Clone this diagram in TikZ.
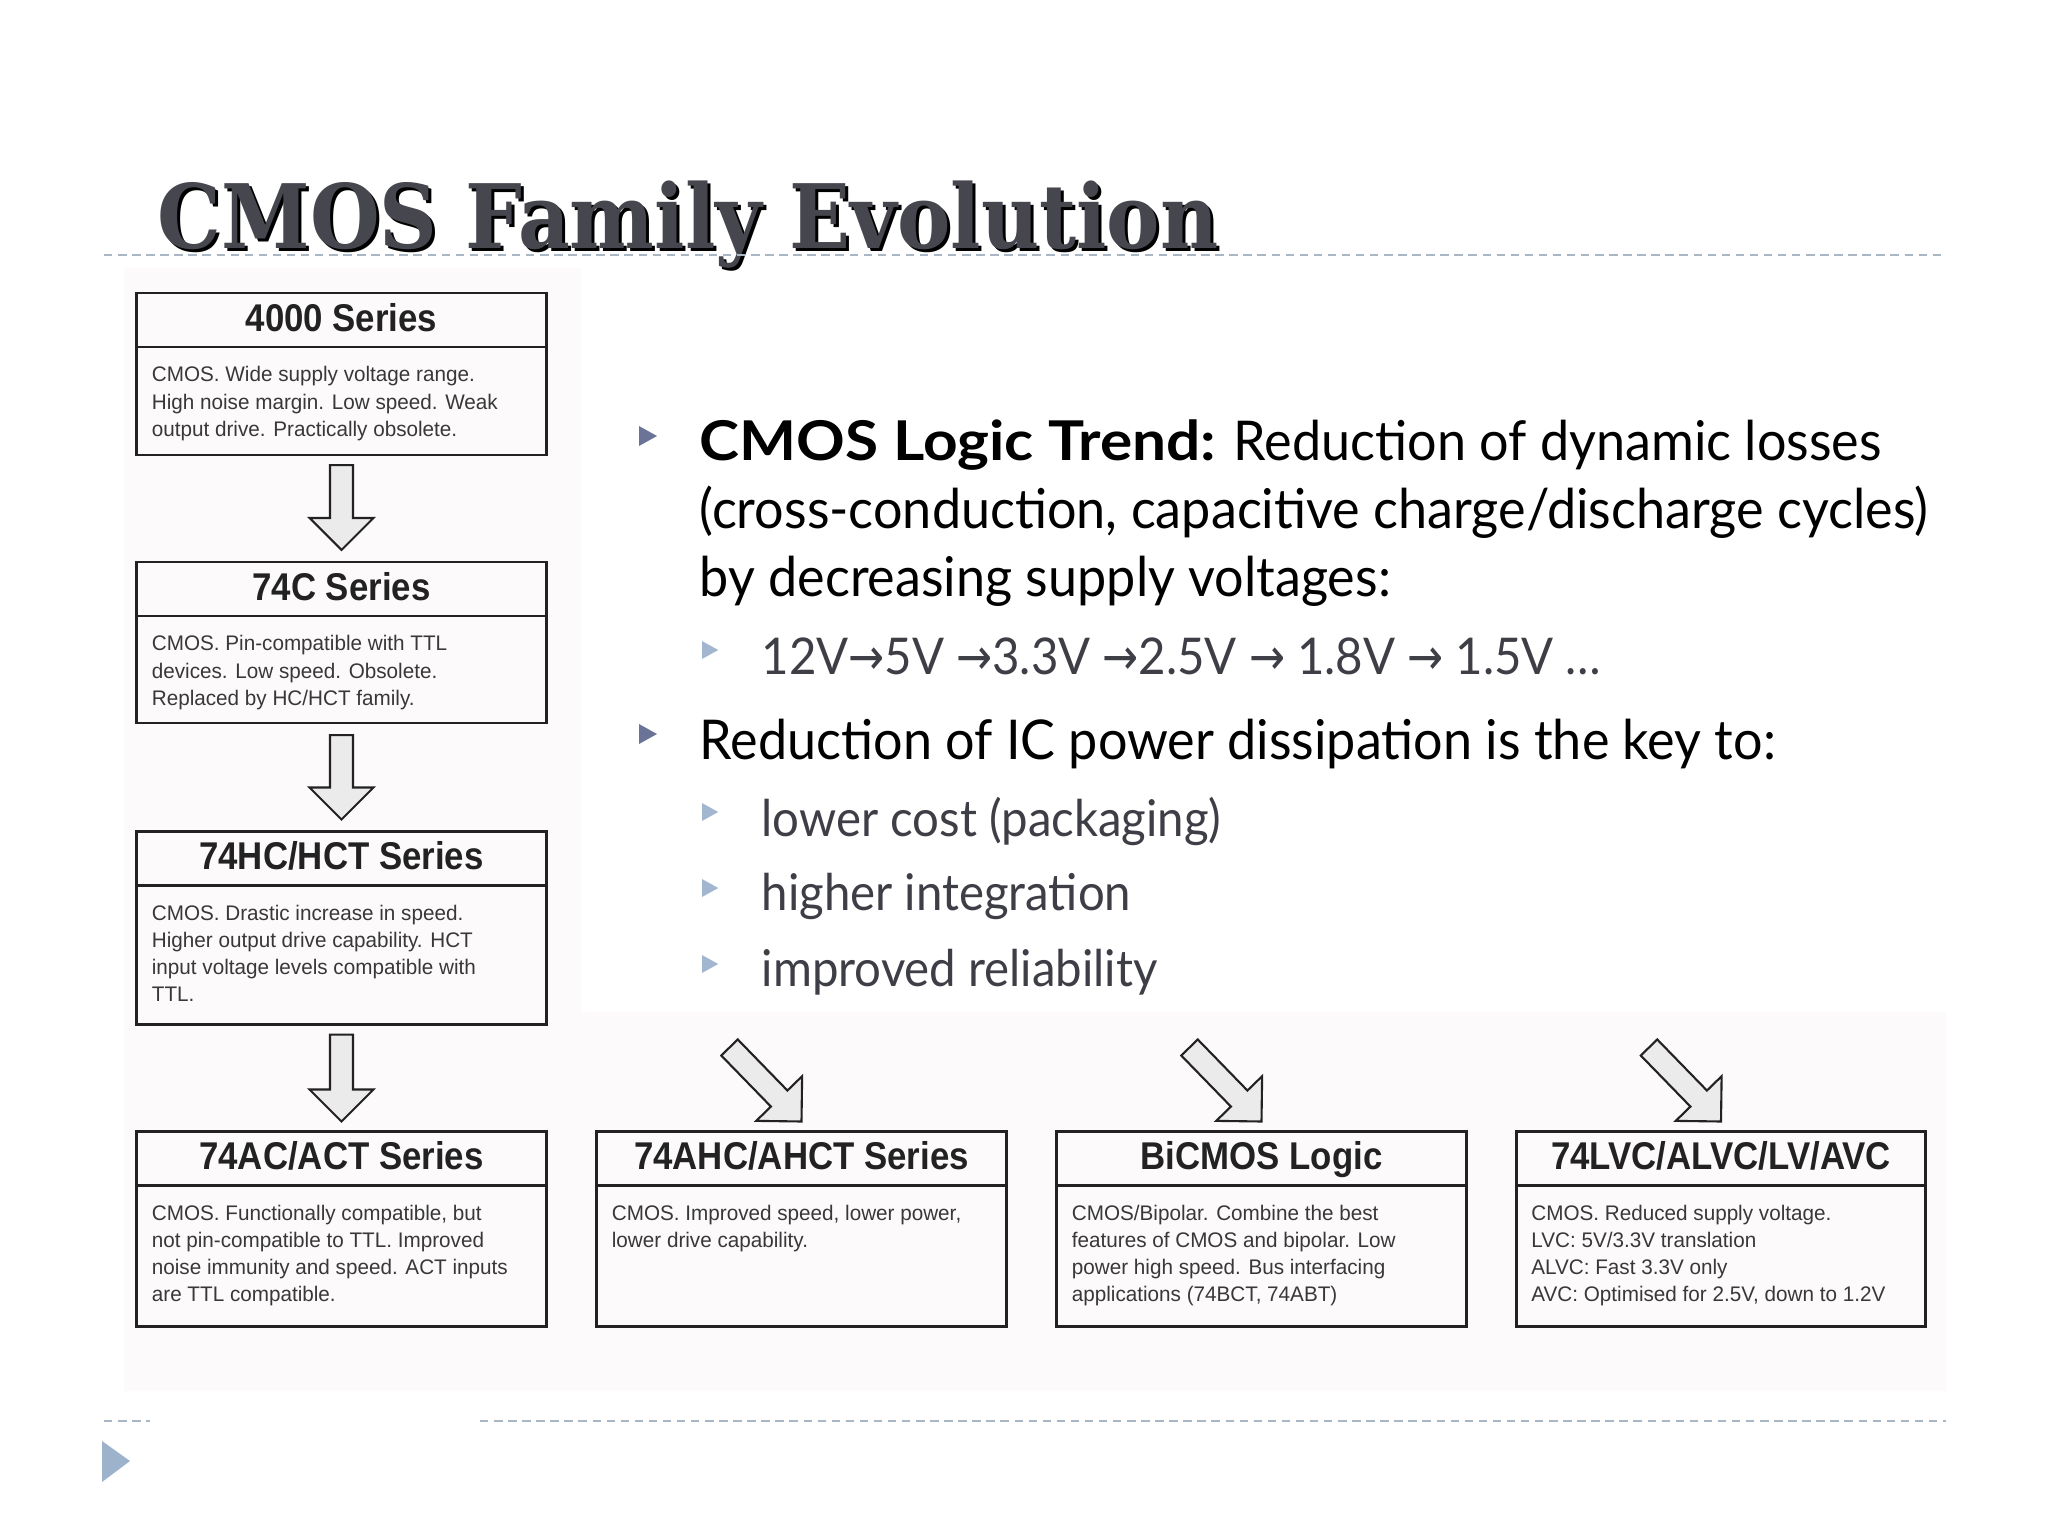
\documentclass[tikz,border=0pt]{standalone}
\usepackage{fontspec}
\usetikzlibrary{calc}
\newfontfamily\slidefont[FakeStretch=0.95]{Lato}
\newfontfamily\slidewide[FakeStretch=1.1]{Lato}
\newfontfamily\slidesub[FakeStretch=0.935]{Lato}
\newfontfamily\titlefont[FakeStretch=0.9]{DejaVu Serif}
\newfontfamily\headfont[FakeStretch=0.9]{Liberation Sans}
\newfontfamily\bodyfont[FakeStretch=0.98]{Liberation Sans}
\newfontfamily\symbfont[FakeStretch=0.85]{DejaVu Sans}
\definecolor{boxline}{HTML}{222222}
\definecolor{arrowfill}{HTML}{EBEBEB}
\definecolor{rulecol}{HTML}{A9B6C6}
\definecolor{bulletone}{HTML}{6B7496}
\definecolor{bullettwo}{HTML}{A2B7CF}
\definecolor{titlegray}{HTML}{46464F}
\definecolor{subtext}{HTML}{3E3E46}
\definecolor{pastebg}{RGB}{252,250,250}
\definecolor{cornertri}{HTML}{9DB3CB}

\tikzset{
  famhead/.style={draw=boxline, line width=0.8pt, minimum width=4.09cm, minimum height=0.54cm, inner sep=0pt, outer sep=0pt, text height=0.22cm, text depth=0pt, text=boxline, font=\headfont\bfseries\fontsize{11}{13}\selectfont},
  fambody/.style={draw=boxline, line width=0.8pt, minimum width=4.09cm, inner sep=0pt, outer sep=0pt, anchor=north, text=boxline!90, font=\bodyfont\fontsize{6}{7.7}\selectfont},
  blockarr/.style={draw=boxline, line width=0.6pt, fill=arrowfill, line join=miter},
  sepline/.style={draw=rulecol, line width=0.6pt, dash pattern=on 2.4pt off 1.6pt},
  titletext/.style={anchor=base west, inner sep=0pt, font=\titlefont\bfseries\fontsize{25.3}{30}\selectfont},
  lvlone/.style={inner sep=0pt, align=left, text=black, font=\slidefont\fontsize{15.6}{19.35}\selectfont},
  lvltwo/.style={anchor=base west, inner sep=0pt, text=subtext, font=\slidesub\fontsize{14.4}{17}\selectfont}
}

% hollow block arrow from #1 (tail) to #2 (tip)
\newcommand{\fatarrow}[2]{%
  \coordinate (fh) at ($(#2)!0.32cm!(#1)$);
  \filldraw[blockarr] ($(#1)!0.115cm!90:(#2)$) -- ($(fh)!0.115cm!90:(#2)$) -- ($(fh)!0.32cm!90:(#2)$) -- (#2)
    -- ($(fh)!0.32cm!-90:(#2)$) -- ($(fh)!0.115cm!-90:(#2)$) -- ($(#1)!0.115cm!-90:(#2)$) -- cycle;}
\newcommand{\bultri}[4]{\fill[#1] (#2,#3) ++(0,-#4) -- ++(0,2*#4) -- ++(0.9*2*#4,-#4) -- cycle;}
\newcommand{\boxlines}[2]{\parbox[c][#1][t]{3.79cm}{\vspace*{0.16cm}\begin{tabular}[t]{@{}l@{}}#2\end{tabular}}}
\newcommand{\voltto}{{\symbfont →}}

\begin{document}
\begin{tikzpicture}[x=0.01cm, y=-0.01cm]
\useasboundingbox (0,0) rectangle (2048,1536);
\fill[white] (0,0) rectangle (2048,1536);
\fill[pastebg] (124,268) -- (581,268) -- (581,1012) -- (1946,1012) -- (1946,1391) -- (124,1391) -- cycle;

\node[titletext, text=black] (titleshade) at (160,251) {CMOS Family Evolution};
\node[titletext, text=titlegray] (title) at (157,248) {CMOS Family Evolution};
\draw[sepline] (104,255) -- (1946,255);
\draw[sepline] (104,1421) -- (150,1421);
\draw[sepline] (480,1421) -- (1946,1421);
\fill[cornertri] (102,1441) -- (102,1482) -- (130,1461) -- cycle;

\node[famhead] (head1) at (341.5,320) {4000 Series};
\node[fambody] (body1) at (head1.south) {\boxlines{1.08cm}{CMOS. Wide supply voltage range.\\High noise margin. Low speed. Weak\\output drive. Practically obsolete.}};
\node[famhead] (head2) at (341.5,589) {74C Series};
\node[fambody] (body2) at (head2.south) {\boxlines{1.07cm}{CMOS. Pin-compatible with TTL\\devices. Low speed. Obsolete.\\Replaced by HC/HCT family.}};
\node[famhead] (head3) at (341.5,858.5) {74HC/HCT Series};
\node[fambody] (body3) at (head3.south) {\boxlines{1.39cm}{CMOS. Drastic increase in speed.\\Higher output drive capability. HCT\\input voltage levels compatible with\\TTL.}};
\node[famhead] (head4) at (341.5,1158.5) {74AC/ACT Series};
\node[fambody] (body4) at (head4.south) {\boxlines{1.41cm}{CMOS. Functionally compatible, but\\not pin-compatible to TTL. Improved\\noise immunity and speed. ACT inputs\\are TTL compatible.}};
\node[famhead] (head5) at (801.5,1158.5) {74AHC/AHCT Series};
\node[fambody] (body5) at (head5.south) {\boxlines{1.41cm}{CMOS. Improved speed, lower power,\\lower drive capability.}};
\node[famhead] (head6) at (1261.5,1158.5) {BiCMOS Logic};
\node[fambody] (body6) at (head6.south) {\boxlines{1.41cm}{CMOS/Bipolar. Combine the best\\features of CMOS and bipolar. Low\\power high speed. Bus interfacing\\applications (74BCT, 74ABT)}};
\node[famhead] (head7) at (1721,1158.5) {74LVC/ALVC/LV/AVC};
\node[fambody] (body7) at (head7.south) {\boxlines{1.41cm}{CMOS. Reduced supply voltage.\\LVC: 5V/3.3V translation\\ALVC: Fast 3.3V only\\AVC: Optimised for 2.5V, down to 1.2V}};

\coordinate (dn1s) at ($(body1.south)+(0,10)$);
\coordinate (dn1e) at ($(head2.north)+(0,-12)$);
\coordinate (dn2s) at ($(body2.south)+(0,12)$);
\coordinate (dn2e) at ($(head3.north)+(0,-12)$);
\coordinate (dn3s) at ($(body3.south)+(0,10)$);
\coordinate (dn3e) at ($(head4.north)+(0,-10)$);
\coordinate (sl1e) at ($(head5.north)+(0,-10)$);
\coordinate (sl1s) at ($(sl1e)+(-72,-74)$);
\coordinate (sl2e) at ($(head6.north)+(0,-10)$);
\coordinate (sl2s) at ($(sl2e)+(-72,-74)$);
\coordinate (sl3e) at ($(head7.north)+(0,-10)$);
\coordinate (sl3s) at ($(sl3e)+(-72,-74)$);
\fatarrow{dn1s}{dn1e}
\fatarrow{dn2s}{dn2e}
\fatarrow{dn3s}{dn3e}
\fatarrow{sl1s}{sl1e}
\fatarrow{sl2s}{sl2e}
\fatarrow{sl3s}{sl3e}

\bultri{bulletone}{639}{436}{10}
\node[lvlone, anchor=north west] (trend) at (699,419) {{\slidewide\bfseries CMOS Logic Trend:} Reduction of dynamic losses\\(cross-conduction, capacitive charge/discharge cycles)\\by decreasing supply voltages:};
\bultri{bullettwo}{702}{650}{9}
\node[lvltwo] (volts) at (761,674) {12V\voltto5V \voltto3.3V \voltto2.5V \voltto{} 1.8V \voltto{} 1.5V …};
\bultri{bulletone}{639}{734}{10}
\node[lvlone, anchor=base west] (power) at (699,759) {Reduction of IC power dissipation is the key to:};
\bultri{bullettwo}{702}{812}{9}
\node[lvltwo] (cost) at (761,836) {lower cost (packaging)};
\bultri{bullettwo}{702}{888}{9}
\node[lvltwo] (integ) at (761,910) {higher integration};
\bultri{bullettwo}{702}{964}{9}
\node[lvltwo] (relia) at (761,986) {improved reliability};
\end{tikzpicture}
\end{document}
